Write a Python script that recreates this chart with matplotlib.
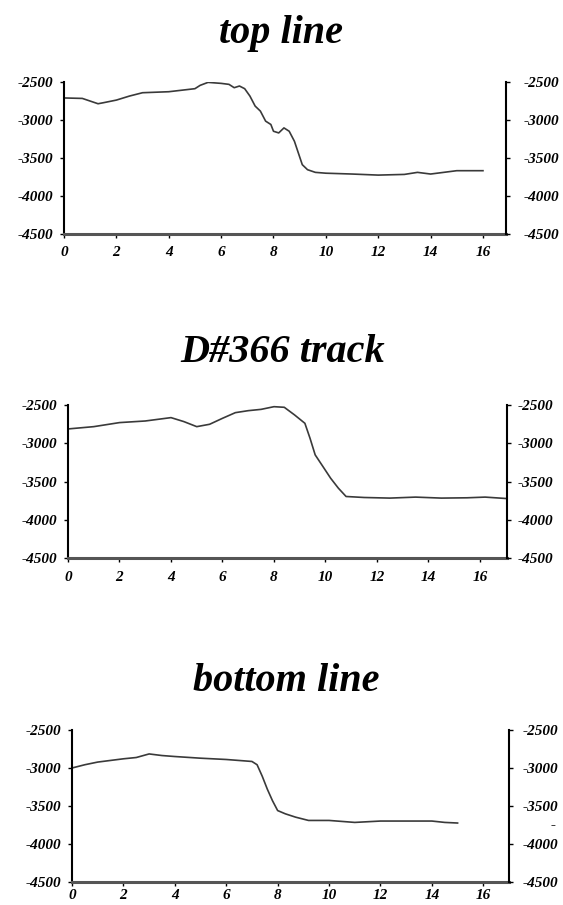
import matplotlib
matplotlib.use("Agg")
import matplotlib.pyplot as plt
from matplotlib.font_manager import FontProperties

plt.rcParams['axes.unicode_minus'] = False
plt.rcParams['font.family'] = ['Liberation Serif', 'DejaVu Serif']

# ---- data ----
titles = ["top line", "D#366 track", "bottom line"]

top_x = [0, 0.7, 1.3, 1.5, 2, 2.5, 3, 4, 5, 5.2, 5.5, 6, 6.3, 6.5, 6.7, 6.9, 7.1, 7.3,
         7.5, 7.7, 7.9, 8.0, 8.2, 8.4, 8.6, 8.8, 8.95, 9.1, 9.3, 9.6, 10, 11, 12, 13,
         13.5, 14, 14.5, 15, 16]
top_y = [-2710, -2716, -2786, -2773, -2738, -2685, -2641, -2628, -2588, -2544, -2505,
         -2518, -2531, -2575, -2553, -2588, -2685, -2817, -2883, -3015, -3059, -3148,
         -3170, -3104, -3148, -3280, -3434, -3588, -3654, -3689, -3700, -3711, -3725,
         -3716, -3689, -3711, -3689, -3667, -3667]

mid_x = [0, 1, 2, 3, 4, 4.5, 5, 5.5, 6, 6.5, 7, 7.5, 8, 8.4, 8.8, 9.2, 9.4, 9.6, 9.9,
         10.2, 10.5, 10.8, 11.5, 12.5, 13.5, 14.5, 15.5, 16.2, 17.0]
mid_y = [-2813, -2783, -2730, -2709, -2665, -2717, -2783, -2752, -2674, -2600, -2574,
         -2557, -2522, -2530, -2630, -2739, -2935, -3152, -3304, -3457, -3587, -3696,
         -3709, -3717, -3704, -3717, -3713, -3704, -3722]

bot_x = [0, 0.5, 1, 2, 2.5, 3, 3.5, 4, 5, 6, 7, 7.2, 7.4, 7.6, 7.8, 8.0, 8.3, 8.7,
         9.2, 10, 11, 12, 13, 14, 14.5, 15]
bot_y = [-3000, -2957, -2922, -2879, -2862, -2815, -2836, -2849, -2871, -2888, -2914,
         -2957, -3108, -3280, -3431, -3560, -3603, -3647, -3690, -3690, -3716, -3698,
         -3698, -3698, -3716, -3724]

xticks = [0, 2, 4, 6, 8, 10, 12, 14, 16]
yticks = [-2500, -3000, -3500, -4000, -4500]
ytick_labels = ["-2500", "-3000", "-3500", "-4000", "-4500"]

series = [(top_x, top_y), (mid_x, mid_y), (bot_x, bot_y)]

# ---- layout (pixels) ----
W, H = 563, 905
boxes = [(64, 506, 82, 234), (68, 507, 405, 558), (72, 509, 730, 882)]
xmax = [16.88, 17.05, 17.0]
xpads = [6, 6, 2]
rpads = [10, 5, 7]
title_y = [34, 353, 681]
title_x = [281, 283, 286]

fig = plt.figure(figsize=(W / 100, H / 100), dpi=100)
fig.patch.set_facecolor('white')

tickfont = dict(family='Liberation Serif', weight='bold', style='italic', size=11)
fp = FontProperties(**tickfont)

for i, ((x, y), (l, r, t, b)) in enumerate(zip(series, boxes)):
    ax = fig.add_axes([l / W, 1 - b / H, (r - l) / W, (b - t) / H])
    ax.plot(x, y, color='#3a3a3a', lw=1.2)
    ax.set_xlim(0, xmax[i])
    ax.set_ylim(-4500, -2500)
    ax.set_xticks(xticks)
    ax.set_xticklabels([str(v) for v in xticks], fontproperties=fp)
    ax.set_yticks(yticks)
    ax.set_yticklabels(ytick_labels, fontproperties=fp)
    ax.tick_params(axis='y', direction='out', length=3, width=1, pad=5)
    ax.tick_params(axis='x', direction='out', length=3, width=1, pad=xpads[i])
    ax.spines['top'].set_visible(False)
    ax.spines['right'].set_visible(False)
    ax.spines['left'].set_linewidth(1.5)
    ax.spines['bottom'].set_linewidth(2.2)
    ax.spines['bottom'].set_color('#555555')
    ax.set_facecolor('white')

    axr = ax.twinx()
    axr.set_ylim(-4500, -2500)
    axr.set_yticks(yticks)
    axr.set_yticklabels(ytick_labels, fontproperties=fp)
    axr.tick_params(axis='y', direction='out', length=3, width=1, pad=rpads[i])
    for s in ['top', 'left', 'bottom']:
        axr.spines[s].set_visible(False)
    axr.spines['right'].set_linewidth(1.5)

    fig.text(title_x[i] / W, 1 - title_y[i] / H, titles[i], ha='center', va='center',
             family='Liberation Serif', weight='bold', style='italic', size=29)

fig.text(553 / W, 1 - 826 / H, "-", ha='center', va='center', **tickfont)

fig.savefig("out.png", dpi=100, facecolor='white')
